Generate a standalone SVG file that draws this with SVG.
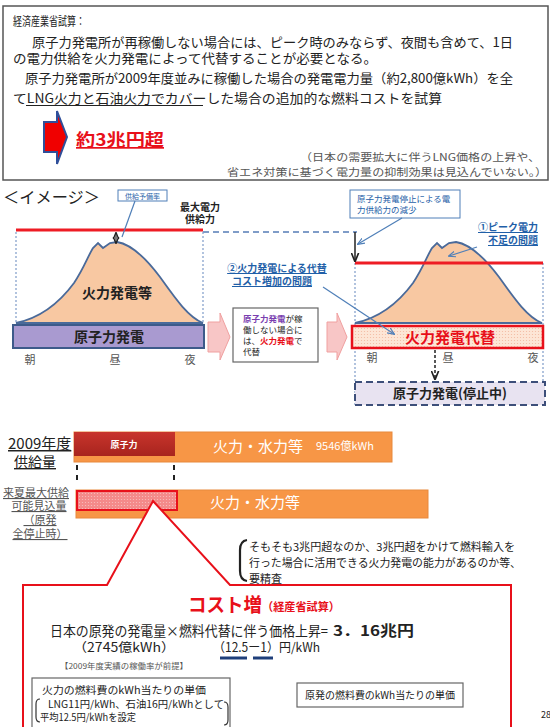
<svg xmlns="http://www.w3.org/2000/svg" width="550" height="727" viewBox="0 0 550 727">
<defs>
<style>
text{font-family:"Noto Sans CJK JP","Noto Sans",sans-serif;fill:#222}
.b{font-weight:bold}
.blu{fill:#1f5fa8}
.red{fill:#e8101a}
.pur{fill:#7a3fb0}
.wh{fill:#fff}
.gr{fill:#555}
.ul{text-decoration:underline}
.dotv{stroke:#7f9cc8;stroke-width:1.2;stroke-dasharray:2,2;fill:none}
.call{stroke:#4f7fb8;stroke-width:1.2;fill:none}
.mtn{fill:#f8c8a2;stroke:#4a6a9a;stroke-width:1.8}
.pink{fill:#f8c6c6;stroke:#f0a0a0;stroke-width:1}
</style>
<pattern id="dots" width="3" height="3" patternUnits="userSpaceOnUse"><rect width="3" height="3" fill="#fde6d6"/><circle cx="1.5" cy="1.5" r="0.6" fill="#f3b9a0"/></pattern>
<pattern id="dots2" width="3" height="3" patternUnits="userSpaceOnUse"><rect width="3" height="3" fill="#f48a8a"/><circle cx="1.5" cy="1.5" r="0.6" fill="#f8c0c0"/></pattern>
<linearGradient id="redbar" x1="0" y1="0" x2="0" y2="1"><stop offset="0" stop-color="#c8352c"/><stop offset="1" stop-color="#a8241e"/></linearGradient>
<marker id="ah" viewBox="0 0 10 10" refX="9" refY="5" markerWidth="6" markerHeight="6" orient="auto"><path d="M0,1 L10,5 L0,9" fill="none" stroke="#4f7fb8" stroke-width="1.6"/></marker>
<marker id="ahk" viewBox="0 0 10 10" refX="9" refY="5" markerWidth="6" markerHeight="6" orient="auto-start-reverse"><path d="M0,1 L10,5 L0,9" fill="none" stroke="#222" stroke-width="1.8"/></marker>
<path id="mountain" d="M16,323 C40,318 60,302 74,283 C84,268 88,256 93,248 L98,243 L103,248 L110,243 L117,242 C130,244 145,257 160,277 C175,298 188,317 203,323 Z"/>
</defs>
<rect width="550" height="727" fill="#fff"/>

<g id="summary">
<rect x="3" y="6" width="545" height="174" fill="#fff" stroke="#555" stroke-width="1.5"/>
<text x="13" y="26" font-size="12" textLength="72" lengthAdjust="spacingAndGlyphs">経済産業省試算：</text>
<text x="32" y="47" font-size="13" textLength="481" lengthAdjust="spacingAndGlyphs">原子力発電所が再稼働しない場合には、ピーク時のみならず、夜間も含めて、1日</text>
<text x="13" y="63" font-size="13" textLength="364" lengthAdjust="spacingAndGlyphs">の電力供給を火力発電によって代替することが必要となる。</text>
<text x="25" y="83" font-size="13" textLength="488" lengthAdjust="spacingAndGlyphs">原子力発電所が2009年度並みに稼働した場合の発電電力量（約2,800億kWh）を全</text>
<text x="13" y="103" font-size="13" textLength="429" lengthAdjust="spacingAndGlyphs">てLNG火力と石油火力でカバーした場合の追加的な燃料コストを試算</text>
<line x1="26" y1="105.5" x2="203" y2="105.5" stroke="#222" stroke-width="1"/>
<polygon points="44,122 57,122 57,111 67,137 57,164 57,152 44,152" fill="#f00000" stroke="#2f4f9a" stroke-width="2"/>
<text x="76" y="146" font-size="17" class="b red ul" textLength="88" lengthAdjust="spacingAndGlyphs">約3兆円超</text>
<text x="540" y="161" font-size="10.5" text-anchor="end" class="gr" textLength="240" lengthAdjust="spacingAndGlyphs">（日本の需要拡大に伴うLNG価格の上昇や、</text>
<text x="547" y="176" font-size="10.5" text-anchor="end" class="gr" textLength="320" lengthAdjust="spacingAndGlyphs">省エネ対策に基づく電力量の抑制効果は見込んでいない。）</text>
</g>

<g id="image-title">
<text x="3" y="203" font-size="16" textLength="97" lengthAdjust="spacingAndGlyphs">＜イメージ＞</text>
</g>

<g id="before">
<line x1="16" y1="232" x2="16" y2="323" class="dotv"/>
<line x1="203" y1="232" x2="203" y2="323" class="dotv"/>
<use href="#mountain" class="mtn"/>
<line x1="16" y1="230" x2="203" y2="230" stroke="#ee1c24" stroke-width="3"/>
<text x="117" y="298" font-size="14" class="b" text-anchor="middle">火力発電等</text>
<rect x="13" y="325" width="191" height="23" fill="#a99ad0" stroke="#3d5a8a" stroke-width="2"/>
<text x="109" y="342" font-size="14" class="b" text-anchor="middle">原子力発電</text>
<text x="30" y="364" font-size="11" class="gr" text-anchor="middle">朝</text>
<text x="115" y="364" font-size="11" class="gr" text-anchor="middle">昼</text>
<text x="190" y="364" font-size="11" class="gr" text-anchor="middle">夜</text>
</g>

<g id="reserve-label">
<rect x="118" y="190" width="49" height="11" fill="#fff" stroke="#4f7fb8" stroke-width="1"/>
<text x="142.5" y="198.5" font-size="7" class="blu" text-anchor="middle">供給予備率</text>
</g>

<g id="max-supply-label">
<text x="200" y="211" font-size="10" class="b" text-anchor="middle">最大電力</text>
<text x="200" y="223" font-size="10" class="b" text-anchor="middle">供給力</text>
</g>

<g id="transition">
<polygon points="208,322 220,322 220,313 230,337 220,360 220,352 208,352" class="pink"/>
<rect x="233" y="308" width="85" height="54" fill="#fff" stroke="#666" stroke-width="1.2"/>
<text x="243" y="322" font-size="8.5"><tspan class="pur b">原子力発電</tspan>が稼</text>
<text x="243" y="333" font-size="8.5">働しない場合に</text>
<text x="243" y="344" font-size="8.5">は、<tspan class="red b">火力発電</tspan>で</text>
<text x="243" y="355" font-size="8.5">代替</text>
<polygon points="327,322 337,322 337,313 347,337 337,360 337,352 327,352" class="pink"/>
</g>

<g id="after">
<line x1="355" y1="263" x2="355" y2="405" class="dotv"/>
<line x1="543" y1="263" x2="543" y2="405" class="dotv"/>
<use href="#mountain" class="mtn" transform="translate(339,0)"/>
<line x1="355" y1="263" x2="543" y2="263" stroke="#ee1c24" stroke-width="3"/>
<rect x="352" y="326" width="191" height="22" fill="url(#dots)" stroke="#e8101a" stroke-width="2.5"/>
<text x="450" y="343" font-size="15" class="b red" text-anchor="middle">火力発電代替</text>
<text x="372" y="362" font-size="11" class="gr" text-anchor="middle">朝</text>
<text x="448" y="362" font-size="11" class="gr" text-anchor="middle">昼</text>
<text x="533" y="362" font-size="11" class="gr" text-anchor="middle">夜</text>
</g>

<g id="stopped-nuclear">
<rect x="355" y="382" width="190" height="23" fill="#e8e3f1" stroke="#3d4f7a" stroke-width="2" stroke-dasharray="7,4"/>
<text x="450" y="398" font-size="13" class="b" text-anchor="middle">原子力発電(停止中)</text>
</g>

<g id="supply-drop-label">
<rect x="350" y="190" width="110" height="28" fill="#fff" stroke="#4f7fb8" stroke-width="1"/>
<text x="357" y="202" font-size="8.5" class="blu">原子力発電停止による電</text>
<text x="357" y="213" font-size="8.5" class="blu">力供給力の減少</text>
</g>

<g id="peak-label">
<text x="538" y="231" font-size="10" class="b blu ul" text-anchor="end">①ピーク電力</text>
<text x="538" y="244" font-size="10" class="b blu ul" text-anchor="end">不足の問題</text>
</g>

<g id="cost-label">
<text x="277" y="272" font-size="10" class="b blu ul" text-anchor="middle">②火力発電による代替</text>
<text x="272" y="285" font-size="10" class="b blu ul" text-anchor="middle">コスト増加の問題</text>
</g>

<g id="connectors">
<line x1="135" y1="201" x2="122" y2="237" class="call"/>
<line x1="116" y1="233" x2="116" y2="243" stroke="#222" stroke-width="1.2" marker-start="url(#ahk)" marker-end="url(#ahk)"/>
<line x1="203" y1="232" x2="357" y2="232" stroke="#7f9cc8" stroke-width="1.8" stroke-dasharray="6,4"/>
<line x1="355" y1="232" x2="355" y2="261" stroke="#222" stroke-width="1.5" marker-end="url(#ahk)"/>
<line x1="402" y1="218" x2="358" y2="244" class="call" marker-end="url(#ah)"/>
<line x1="477" y1="247" x2="449" y2="256" class="call" marker-end="url(#ah)"/>
<line x1="323" y1="287" x2="394" y2="334" class="call" marker-end="url(#ah)"/>
<line x1="435" y1="350" x2="435" y2="379" stroke="#222" stroke-width="1.5" stroke-dasharray="3,2" marker-end="url(#ahk)"/>
<line x1="77" y1="465" x2="77" y2="485" stroke="#222" stroke-width="2" stroke-dasharray="5,5"/>
<line x1="174" y1="465" x2="174" y2="485" stroke="#222" stroke-width="2" stroke-dasharray="5,5"/>
<line x1="165" y1="678" x2="235" y2="660" stroke="#4a6a9a" stroke-width="1.2"/>
<line x1="380" y1="683" x2="272" y2="660" stroke="#4a6a9a" stroke-width="1.2"/>
</g>

<g id="bar-2009">
<text x="8" y="449" font-size="15" class="ul" fill="#333">2009年度</text>
<text x="35" y="467" font-size="14" class="ul" text-anchor="middle" fill="#333">供給量</text>
<rect x="74" y="432" width="318" height="30" fill="#f79646" stroke="#e8893c" stroke-width="1"/>
<rect x="74" y="432" width="101" height="24" fill="url(#redbar)"/>
<text x="124" y="448" font-size="9" class="wh b" text-anchor="middle">原子力</text>
<text x="213" y="452" font-size="15" class="wh">火力・水力等</text>
<text x="316" y="450" font-size="11" class="wh">9546億kWh</text>
</g>

<g id="bar-next-summer">
<text x="36" y="497" font-size="11" class="ul gr" text-anchor="middle">来夏最大供給</text>
<text x="39" y="510" font-size="11" class="ul gr" text-anchor="middle">可能見込量</text>
<text x="40" y="524" font-size="11" class="ul gr" text-anchor="middle">（原発</text>
<text x="40" y="538" font-size="11" class="ul gr" text-anchor="middle">全停止時）</text>
<rect x="76" y="490" width="352" height="28" fill="#f79646" stroke="#e8893c" stroke-width="1"/>
<rect x="77" y="491" width="100" height="19" fill="url(#dots2)" stroke="#e8101a" stroke-width="2"/>
<text x="210" y="508" font-size="15" class="wh">火力・水力等</text>
</g>

<g id="note">
<path d="M247,540 Q240,541 240,550 V571 Q240,580 247,581" fill="none" stroke="#222" stroke-width="2.2"/>
<text x="249" y="551" font-size="11" textLength="266" lengthAdjust="spacingAndGlyphs">そもそも3兆円超なのか、3兆円超をかけて燃料輸入を</text>
<text x="249" y="567" font-size="11" textLength="272" lengthAdjust="spacingAndGlyphs">行った場合に活用できる火力発電の能力があるのか等、</text>
<text x="249" y="583" font-size="11">要精査</text>
</g>

<g id="cost-box">
<path d="M23,730 V585 H107 L153,501 L230,585 H511 V730" fill="#fff" stroke="#e8101a" stroke-width="2"/>
<text x="188" y="612" font-size="19" class="b red" textLength="74" lengthAdjust="spacingAndGlyphs">コスト増</text>
<text x="262" y="611" font-size="11.5" class="b red" textLength="78" lengthAdjust="spacingAndGlyphs">（経産省試算）</text>
<text x="50" y="636" font-size="13.5" fill="#222" textLength="278" lengthAdjust="spacingAndGlyphs">日本の原発の発電量×燃料代替に伴う価格上昇=</text>
<text x="333" y="636" font-size="14.5" class="b" textLength="81" lengthAdjust="spacingAndGlyphs">3．16兆円</text>
<text x="73" y="652" font-size="12.5" textLength="102" lengthAdjust="spacingAndGlyphs">（2745億kWh）</text>
<text x="213" y="652" font-size="12.5" textLength="107" lengthAdjust="spacingAndGlyphs">（12.5ー1）円/kWh</text>
<line x1="220" y1="658" x2="247" y2="658" stroke="#1f3f7a" stroke-width="3"/>
<line x1="253" y1="658" x2="273" y2="658" stroke="#1f3f7a" stroke-width="3"/>
<text x="60" y="669" font-size="8" class="gr" textLength="128" lengthAdjust="spacingAndGlyphs">【2009年度実績の稼働率が前提】</text>
</g>

<g id="thermal-unit-price">
<rect x="32" y="678" width="198" height="60" fill="#fff" stroke="#666" stroke-width="1.2"/>
<text x="42" y="694" font-size="10.5" textLength="164" lengthAdjust="spacingAndGlyphs">火力の燃料費のkWh当たりの単価</text>
<path d="M40,699 Q36,699 36,704 V717 Q36,722 40,722" fill="none" stroke="#333" stroke-width="1.2"/>
<text x="48" y="708" font-size="10" textLength="176" lengthAdjust="spacingAndGlyphs">LNG11円/kWh、石油16円/kWhとして</text>
<path d="M224,702 Q228,702 228,707 V720 Q228,725 224,725" fill="none" stroke="#333" stroke-width="1.2"/>
<text x="40" y="721" font-size="10" textLength="96" lengthAdjust="spacingAndGlyphs">平均12.5円/kWhを設定</text>
</g>

<g id="nuclear-unit-price">
<rect x="297" y="683" width="166" height="24" fill="#fff" stroke="#666" stroke-width="1.2"/>
<text x="380" y="699" font-size="10.5" text-anchor="middle" textLength="150" lengthAdjust="spacingAndGlyphs">原発の燃料費のkWh当たりの単価</text>
</g>

<text x="541" y="718" font-size="9" fill="#777">28</text>
</svg>
